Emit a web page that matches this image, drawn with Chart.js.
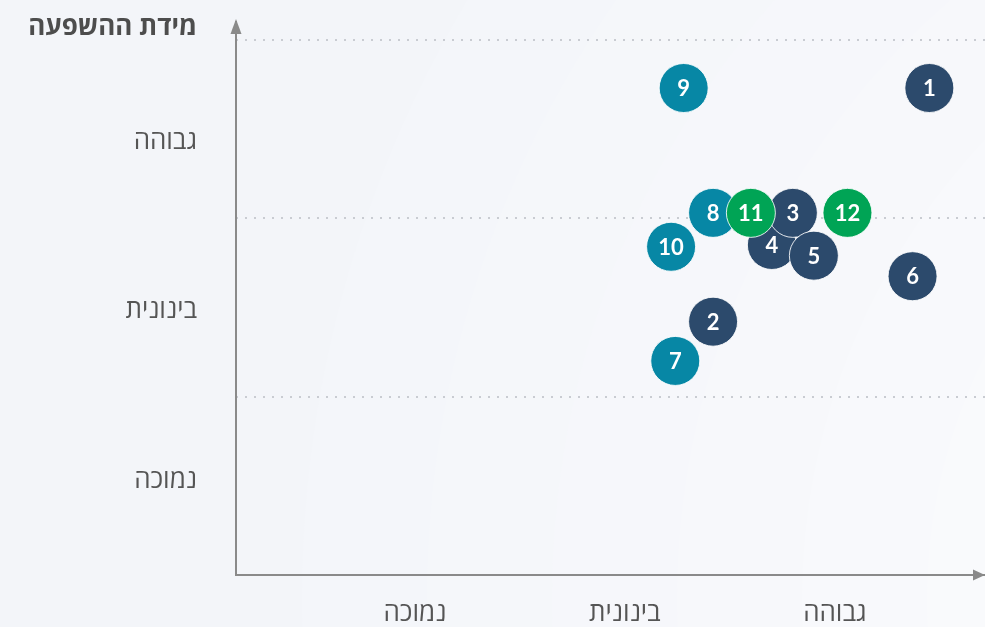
<!DOCTYPE html>
<html lang="he">
<head>
<meta charset="UTF-8">
<title>מידת ההשפעה</title>
<script src="https://cdn.jsdelivr.net/npm/chart.js"></script>
<style>
  html, body { margin: 0; padding: 0; background: #f4f6fa; }
  #wrap { width: 985px; height: 627px; }
</style>
</head>
<body>
<div id="wrap"><canvas id="impactChart" width="985" height="627"></canvas></div>
<script>
// levels used on both axes (low / medium / high)
const levelLabels = ['נמוכה', 'בינונית', 'גבוהה'];
const yTitle = 'מידת ההשפעה';

// items, listed in the order they are stacked (later ones on top)
const itemIds    = [1,    2,    4,    3,    5,    6,     8,    7,    9,    10,   11,   12];
const xValues    = [2.95, 1.92, 2.20, 2.30, 2.40, 2.87,  1.92, 1.74, 1.78, 1.72, 2.10, 2.56];
const yValues    = [2.73, 1.42, 1.85, 2.03, 1.79, 1.675, 2.03, 1.20, 2.73, 1.84, 2.03, 2.03];
const itemGroups = ['a',  'a',  'a',  'a',  'a',  'a',   'b',  'b',  'b',  'b',  'c',  'c'];

const groupColors = { a: '#2c4a6c', b: '#0787a5', c: '#00a455' };
const textFont = "'Open Sans', 'DejaVu Sans', sans-serif";

// scales get their size from afterFit only, no extra label padding
function fixBox(w, h) {
  return s => {
    if (w !== null) s.width = w;
    if (h !== null) s.height = h;
    s.paddingTop = 0;
    s.paddingBottom = 0;
    s.paddingLeft = 0;
    s.paddingRight = 0;
  };
}

// soft concentric bands behind everything
const bandsPlugin = {
  id: 'bands',
  beforeDraw(chart) {
    const c = chart.ctx;
    c.save();
    c.fillStyle = '#f3f5f9';
    c.fillRect(0, 0, chart.width, chart.height);
    const shades = ['#f4f6fa', '#f5f7fa', '#f6f7fb', '#f7f8fb', '#f8f9fc', '#f9fafc'];
    let r = 1170;
    shades.forEach(s => {
      c.beginPath();
      c.arc(1472, 600, r, 0, Math.PI * 2);
      c.fillStyle = s;
      c.fill();
      r -= 125;
    });
    c.restore();
  }
};

// arrowheads on the axes and the vertical axis title
const axesPlugin = {
  id: 'axesDecor',
  afterDraw(chart) {
    const c = chart.ctx;
    const a = chart.chartArea;
    c.save();
    c.fillStyle = '#8a8a8a';
    c.beginPath();
    c.moveTo(a.left, a.top - 3);
    c.lineTo(a.left - 5.5, a.top + 12);
    c.lineTo(a.left + 5.5, a.top + 12);
    c.closePath();
    c.fill();
    c.beginPath();
    c.moveTo(a.right, a.bottom);
    c.lineTo(a.right - 12, a.bottom - 5.5);
    c.lineTo(a.right - 12, a.bottom + 5.5);
    c.closePath();
    c.fill();

    c.fillStyle = '#4d4d4d';
    c.font = 'bold 26px ' + textFont;
    c.textAlign = 'right';
    c.textBaseline = 'middle';
    c.fillText(yTitle, a.left - 39, 28);
    c.restore();
  }
};

// item numbers on the circles
const idPlugin = {
  id: 'itemIds',
  afterDatasetsDraw(chart) {
    const c = chart.ctx;
    const meta = chart.getDatasetMeta(0);
    c.save();
    c.fillStyle = '#ffffff';
    c.font = "bold 22px Lato, 'Open Sans', sans-serif";
    c.textAlign = 'center';
    c.textBaseline = 'middle';
    meta.data.forEach((pt, i) => {
      c.fillText(String(itemIds[i]), pt.x, pt.y + 1);
    });
    c.restore();
  }
};

const ctx = document.getElementById('impactChart').getContext('2d');

const chart = new Chart(ctx, {
  type: 'scatter',
  data: {
    datasets: [{
      data: itemIds.map((id, i) => ({ x: xValues[i], y: yValues[i] })),
      backgroundColor: itemGroups.map(g => groupColors[g]),
      borderColor: 'rgba(255,255,255,0.85)',
      borderWidth: 1,
      pointRadius: 24.5,
      pointHoverRadius: 24.5,
      clip: false
    }]
  },
  options: {
    responsive: false,
    animation: false,
    events: [],
    layout: { autoPadding: false, padding: { top: 22, right: 0, left: 0, bottom: 0 } },
    plugins: {
      legend: { display: false },
      tooltip: { enabled: false }
    },
    scales: {
      x: {
        type: 'linear',
        min: -0.352,
        max: 3.215,
        grid: { display: false, drawTicks: false },
        border: { display: true, color: '#8a8a8a', width: 2 },
        afterBuildTicks: s => { s.ticks = [0.5, 1.5, 2.5].map(v => ({ value: v })); },
        afterFit: fixBox(null, 52),
        ticks: {
          padding: 23,
          color: '#555',
          font: { family: textFont, size: 26 },
          callback: (v, i) => levelLabels[i]
        }
      },
      yl: {
        type: 'linear',
        position: 'left',
        min: 0,
        max: 3.1,
        grid: { display: false, drawTicks: false },
        border: { display: true, color: '#8a8a8a', width: 2 },
        afterBuildTicks: s => { s.ticks = [0.53, 1.485, 2.43].map(v => ({ value: v })); },
        afterFit: fixBox(236, null),
        ticks: {
          padding: 39,
          color: '#555',
          font: { family: textFont, size: 26 },
          callback: (v, i) => levelLabels[i]
        }
      },
      y: {
        type: 'linear',
        position: 'right',
        min: 0,
        max: 3.1,
        afterBuildTicks: s => { s.ticks = [1, 2, 3].map(v => ({ value: v })); },
        afterFit: fixBox(0, null),
        ticks: { display: false },
        grid: { color: '#c9ccd2', lineWidth: 2, drawTicks: false },
        border: { display: false, dash: [2, 7], dashOffset: -9 }
      }
    }
  },
  plugins: [bandsPlugin, axesPlugin, idPlugin]
});
</script>
</body>
</html>
